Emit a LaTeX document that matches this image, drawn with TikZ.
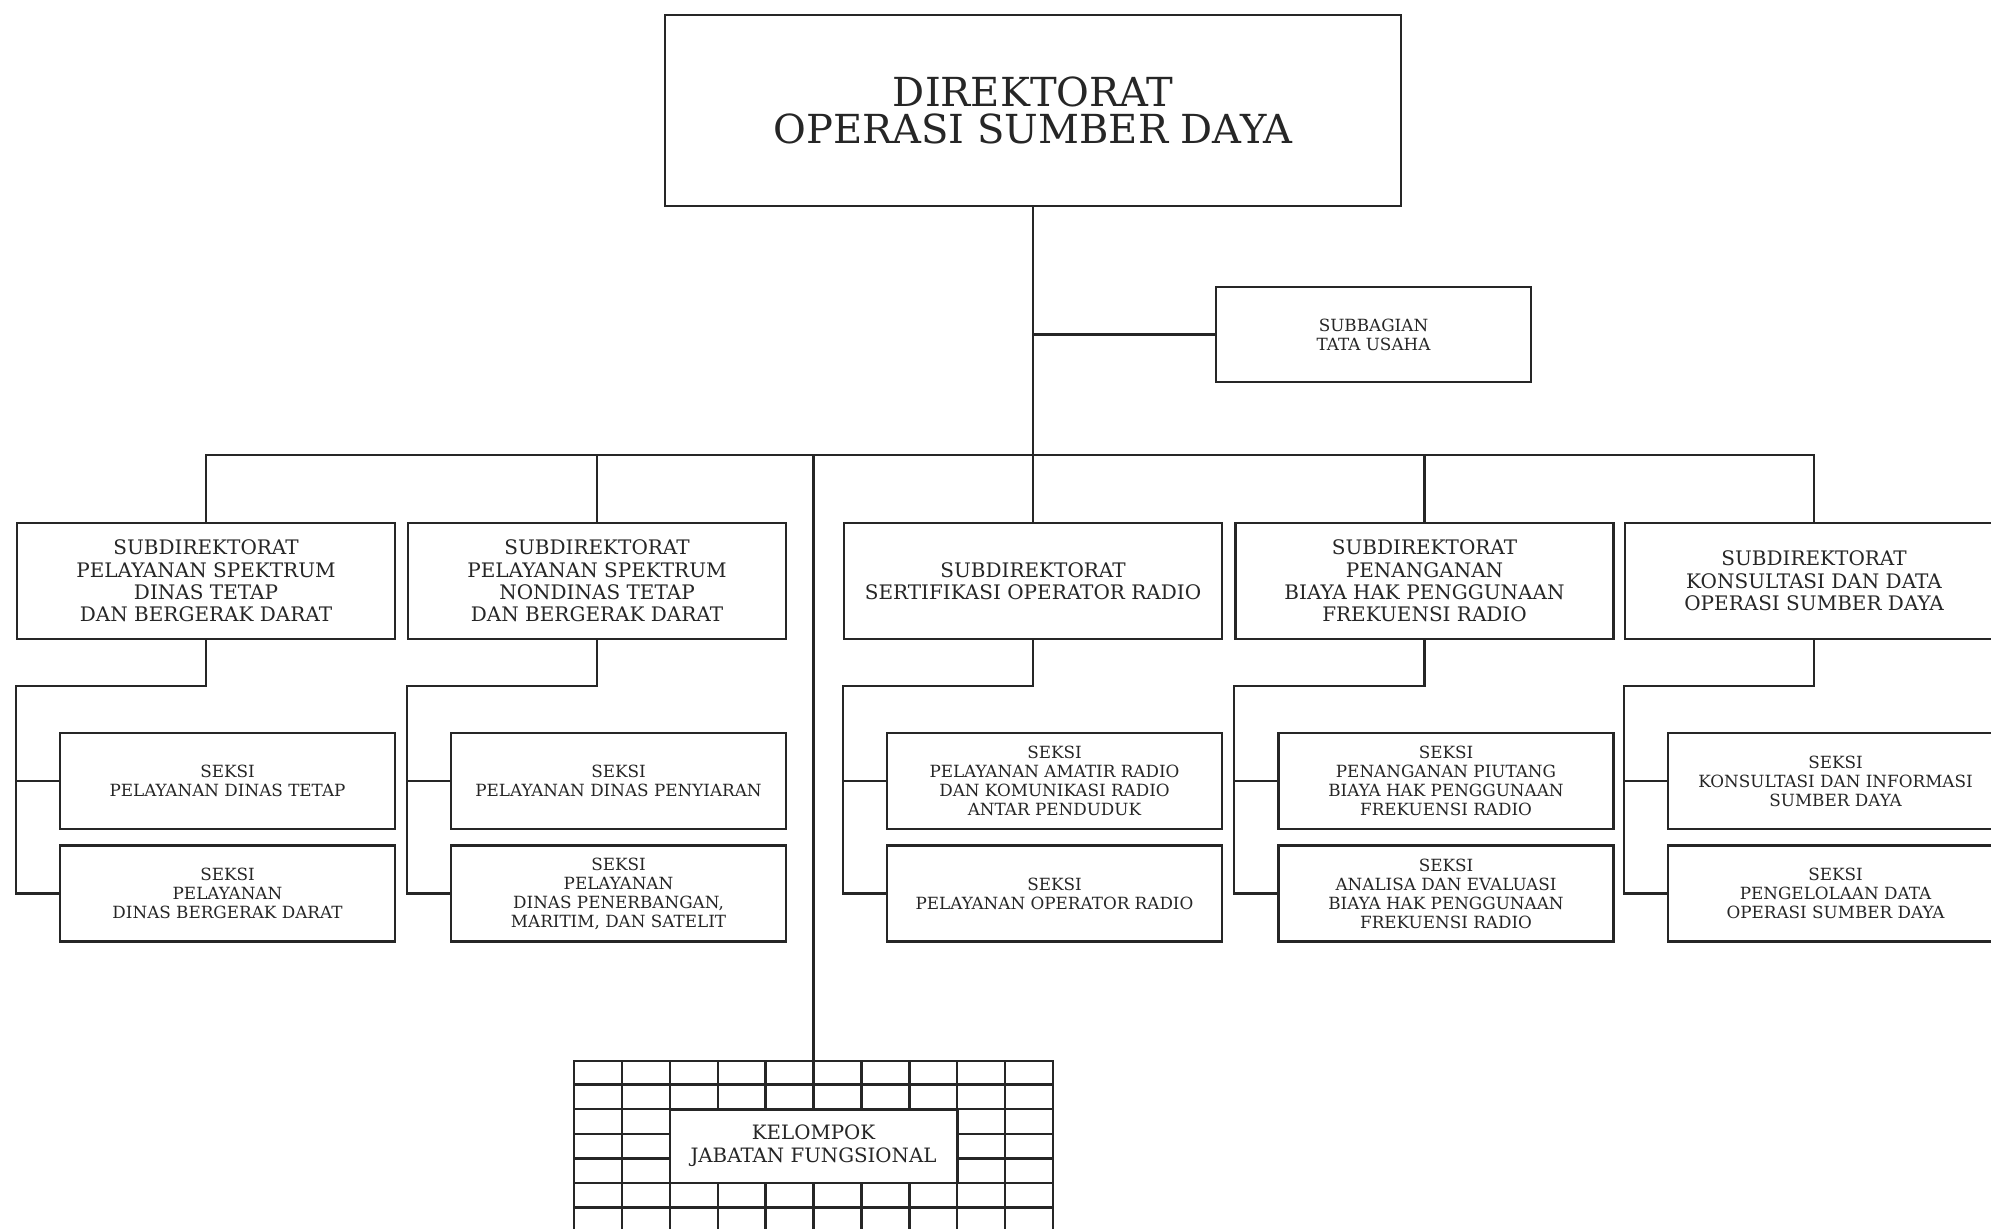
\documentclass[tikz,border=0pt]{standalone}
\usepackage{fontspec}
\setmainfont{DejaVu Serif}
\begin{document}
\begin{tikzpicture}[x=0.5pt,y=-0.5pt,
  ln/.style={line width=1.2pt, draw=black!85},
  box/.style={draw=black!85, line width=1.3pt, align=center, text=black!85, inner sep=0pt, fill=white},
  dirbox/.style={box, minimum width=368pt, minimum height=95.5pt, font=\fontsize{20}{18.5}\selectfont},
  subbox/.style={box, minimum width=189pt, minimum height=58pt, font=\fontsize{10}{11.2}\selectfont},
  seksibox/.style={box, minimum width=167.5pt, minimum height=48pt, font=\fontsize{8.4}{9.5}\selectfont},
  tubox/.style={box, minimum width=157.5pt, minimum height=47.5pt, font=\fontsize{8.4}{9.5}\selectfont},
  kjfbox/.style={box, minimum width=143.7pt, minimum height=36.9pt, font=\fontsize{9.9}{11.5}\selectfont},
]
\useasboundingbox (0,0) rectangle (1991,1228);
\clip (0,0) rectangle (1991,1228);

% top
\node[dirbox] (dir) at (1033,110.5) {DIREKTORAT\\OPERASI SUMBER DAYA};
\node[tubox] (tu) at (1373.5,334.5) {SUBBAGIAN\\TATA USAHA};

% subdirektorat
\node[subbox] (s1) at (206,581) {SUBDIREKTORAT\\PELAYANAN SPEKTRUM\\DINAS TETAP\\DAN BERGERAK DARAT};
\node[subbox] (s2) at (597,581) {SUBDIREKTORAT\\PELAYANAN SPEKTRUM\\NONDINAS TETAP\\DAN BERGERAK DARAT};
\node[subbox] (s3) at (1033,581) {SUBDIREKTORAT\\SERTIFIKASI OPERATOR RADIO};
\node[subbox] (s4) at (1424.5,581) {SUBDIREKTORAT\\PENANGANAN\\BIAYA HAK PENGGUNAAN\\FREKUENSI RADIO};
\node[subbox] (s5) at (1814,581) {SUBDIREKTORAT\\KONSULTASI DAN DATA\\OPERASI SUMBER DAYA};

% seksi
\node[seksibox] (k11) at (227.5,781) {SEKSI\\PELAYANAN DINAS TETAP};
\node[seksibox] (k12) at (227.5,893.5) {SEKSI\\PELAYANAN\\DINAS BERGERAK DARAT};
\node[seksibox] (k21) at (618.5,781) {SEKSI\\PELAYANAN DINAS PENYIARAN};
\node[seksibox] (k22) at (618.5,893.5) {SEKSI\\PELAYANAN\\DINAS PENERBANGAN,\\MARITIM, DAN SATELIT};
\node[seksibox] (k31) at (1054.5,781) {SEKSI\\PELAYANAN AMATIR RADIO\\DAN KOMUNIKASI RADIO\\ANTAR PENDUDUK};
\node[seksibox] (k32) at (1054.5,893.5) {SEKSI\\PELAYANAN OPERATOR RADIO};
\node[seksibox] (k41) at (1446,781) {SEKSI\\PENANGANAN PIUTANG\\BIAYA HAK PENGGUNAAN\\FREKUENSI RADIO};
\node[seksibox] (k42) at (1446,893.5) {SEKSI\\ANALISA DAN EVALUASI\\BIAYA HAK PENGGUNAAN\\FREKUENSI RADIO};
\node[seksibox] (k51) at (1835.5,781) {SEKSI\\KONSULTASI DAN INFORMASI\\SUMBER DAYA};
\node[seksibox] (k52) at (1835.5,893.5) {SEKSI\\PENGELOLAAN DATA\\OPERASI SUMBER DAYA};

% kelompok jabatan fungsional grid
\node[draw=black!85, line width=1.2pt, minimum width=239.5pt, minimum height=100pt, anchor=north, inner sep=0pt] (grid) at (813.5,1060) {};
\foreach \i in {0,1,2,8,9,10} {
  \pgfmathsetmacro\gx{574+47.9*\i}
  \draw[ln] (\gx,1060) -- (\gx,1260);
}
\foreach \i in {3,...,7} {
  \pgfmathsetmacro\gx{574+47.9*\i}
  \draw[ln] (\gx,1060) -- (\gx,1109.2);
  \draw[ln] (\gx,1183) -- (\gx,1260);
}
\foreach \j in {1,2,5,6,7} {
  \pgfmathsetmacro\gy{1060+24.6*\j}
  \draw[ln] (574,\gy) -- (1053,\gy);
}
\foreach \j in {3,4} {
  \pgfmathsetmacro\gy{1060+24.6*\j}
  \draw[ln] (574,\gy) -- (669.8,\gy);
  \draw[ln] (957.2,\gy) -- (1053,\gy);
}
\node[kjfbox] (kjf) at (813.5,1146.1) {KELOMPOK\\JABATAN FUNGSIONAL};

% connectors
\coordinate (bus) at (1033,455);
\draw[ln] (dir.south) -- (bus);
\draw[ln] (tu.west) -- (tu.west -| dir.south);
\draw[ln] (s1.north) |- (bus) -| (s5.north);
\draw[ln] (s2.north) -- (s2.north |- bus);
\draw[ln] (s3.north) -- (s3.north |- bus);
\draw[ln] (s4.north) -- (s4.north |- bus);
\draw[ln] (grid.north) -- (grid.north |- bus);

\foreach \c in {1,...,5} {
  \coordinate (e\c) at (s\c.west |- 0,686);
  \draw[ln] (s\c.south) |- (e\c) |- (k\c2.west);
  \draw[ln] (e\c |- k\c1.west) -- (k\c1.west);
}
\end{tikzpicture}
\end{document}
